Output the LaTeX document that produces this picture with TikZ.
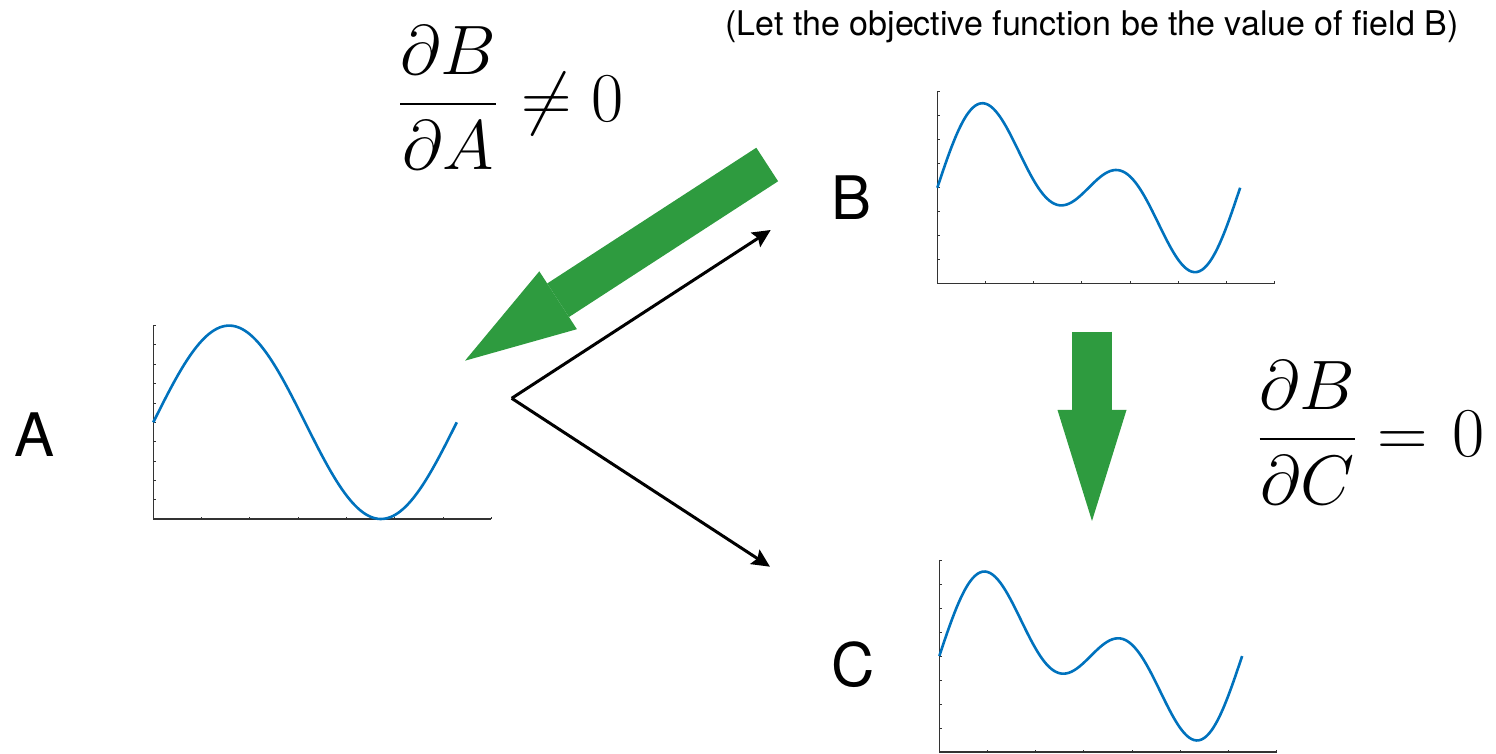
\documentclass[tikz,border=0pt]{standalone}
\usepackage{fix-cm}
\usepackage[no-math]{fontspec}
\usepackage{amsmath}
\usepackage{xcolor}
\usepackage{tikz}
\usetikzlibrary{arrows.meta}
\newfontfamily\heros{TeX Gyre Heros}
\definecolor{plotBlue}{HTML}{0072BD}
\definecolor{gradGreen}{HTML}{2E9B3F}
\definecolor{axisGray}{HTML}{333333}
\tikzset{
  axis line/.style={draw=axisGray, line width=0.55pt},
  tick mark/.style={draw=axisGray, line width=0.45pt},
  field curve/.style={draw=plotBlue, line width=1.3pt, smooth, samples=120},
  field label/.style={font=\heros\fontsize{30}{36}\selectfont, inner sep=0pt},
  note label/.style={font=\heros\fontsize{17}{20}\selectfont, inner sep=0pt},
  grad label/.style={font=\fontsize{35}{42}\selectfont, inner sep=0pt,
    anchor=base west},
  grad arrow/.style={draw=gradGreen, line width=20pt,
    -{Triangle[length=55.5pt, width=34.5pt, line width=0pt]}},
  flow/.style={-{Stealth[length=9pt, width=8.5pt, inset=1.5pt]},
    line width=1.5pt}
}

\begin{document}
\begin{tikzpicture}[x=0.5pt, y=-0.5pt]
  \useasboundingbox (0,0) rectangle (1496,754);

  % field A
  \begin{scope}[shift={(153.3,422.3)}, x=24.15pt, y=48.35pt]
    \draw[axis line] (0,1) -- (0,-1) -- (7,-1);
    \foreach \i in {1,...,7} \draw[tick mark] (\i,-1) -- ++(0pt,1.2pt);
    \foreach \j in {-0.8,-0.6,...,1.05} \draw[tick mark] (0,\j) -- ++(1.2pt,0pt);
    \draw[field curve, domain=0:2*pi] plot (\x,{sin(\x r)});
  \end{scope}

  % field B
  \begin{scope}[shift={(937.3,187.7)}, x=24.1pt, y=24pt]
    \draw[axis line] (0,2) -- (0,-2) -- (7,-2);
    \foreach \i in {1,...,7} \draw[tick mark] (\i,-2) -- ++(0pt,1.2pt);
    \foreach \j in {-1.5,-1,...,2.05} \draw[tick mark] (0,\j) -- ++(1.2pt,0pt);
    \draw[field curve, domain=0:2*pi] plot (\x,{sin(\x r)+sin(2*\x r)});
  \end{scope}

  % field C
  \begin{scope}[shift={(939.3,656)}, x=24.1pt, y=24pt]
    \draw[axis line] (0,2) -- (0,-2) -- (7,-2);
    \foreach \i in {1,...,7} \draw[tick mark] (\i,-2) -- ++(0pt,1.2pt);
    \foreach \j in {-1.5,-1,...,2.05} \draw[tick mark] (0,\j) -- ++(1.2pt,0pt);
    \draw[field curve, domain=0:2*pi] plot (\x,{sin(\x r)+sin(2*\x r)});
  \end{scope}

  \node[field label] (A) at (35,435) {A};
  \node[field label] (B) at (852,198) {B};
  \node[field label] (C) at (853,665) {C};
  \node[note label] (note) at (1092,27)
    {(Let the objective function be the value of field B)};

  \node[grad label] (dBdA) at (397.6,121.5)
    {$\displaystyle\frac{\partial B}{\partial A}\mkern1mu\neq 0$};
  \node[grad label] (dBdC) at (1256.9,456.5)
    {$\displaystyle\frac{\partial B}{\partial C}=\mkern1.5mu 0$};

  % forward dependence
  \coordinate (fork) at (511.7,398.3);
  \coordinate (toB) at (770.7,230);
  \coordinate (toC) at (770,566.7);
  \draw[flow] (fork) -- (toB);
  \draw[flow] (fork) -- (toC);

  % gradients
  \coordinate (gradB) at (767.2,164.5);
  \coordinate (gradA) at (465,360.7);
  \coordinate (gradC0) at (1092,331.7);
  \coordinate (gradC) at (1092,521);
  \draw[grad arrow] (gradB) -- (gradA);
  \draw[grad arrow] (gradC0) -- (gradC);
\end{tikzpicture}
\end{document}
